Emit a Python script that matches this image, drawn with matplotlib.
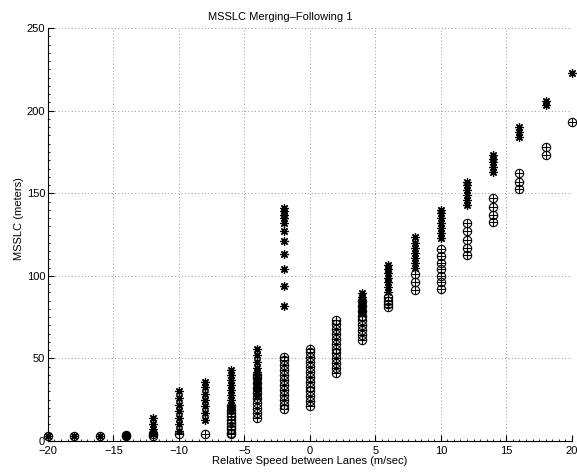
import matplotlib.pyplot as plt
from matplotlib.ticker import MultipleLocator

# Vitesses relatives (m/sec)
vitesses = [-20, -18, -16, -14, -12, -10, -8, -6, -4, -2, 0,
            2, 4, 6, 8, 10, 12, 14, 16, 18, 20]

# Valeurs lues pour la série étoiles
etoiles = [
    [3], [3], [3], [3, 3.5],
    [4, 5.5, 7.5, 10.5, 14],
    [6, 10, 14, 18, 22, 26, 30],
    [13, 17, 21, 25, 28.5, 32.5, 36],
    [19, 22, 25, 28, 31, 34, 37, 40, 43],
    [27, 30, 33, 36, 39, 42, 44, 48, 52, 56],
    [82, 94, 104, 113, 121, 127, 132, 135, 137, 139, 141],
    [],
    [],
    [78, 81, 84, 87, 89.5],
    [90, 93, 96, 99, 102, 104, 106.5],
    [104.5, 108, 111, 114, 117, 120, 123.5],
    [123, 126, 129, 132, 135, 138, 140],
    [143, 146, 149, 152, 155, 157],
    [163, 166, 169, 171, 173],
    [184, 187, 190],
    [203.6, 206],
    [223],
]

# Valeurs lues pour la série cercles
cercles = [
    [3], [3], [3], [3, 3.5], [3, 4], [4], [4],
    [4, 5, 7, 9, 11, 13, 15, 17, 19, 21],
    [14, 17, 20, 23, 26, 29, 32, 35, 38, 40],
    [19.5, 22, 25, 28, 31, 34, 37, 40, 43, 46, 49, 51],
    [21, 24, 27, 30, 33, 36, 39, 42, 45, 48, 51, 54, 56],
    [41, 44, 47, 50, 53, 56, 59, 62, 65, 68, 71, 73],
    [61, 64, 67, 70, 73, 76, 79, 82, 85],
    [81, 83, 85, 87],
    [91.5, 96, 101],
    [92, 96, 100, 104, 108, 112, 116],
    [112.5, 117, 122, 127, 132],
    [132.5, 137, 142, 147],
    [152.5, 157, 162],
    [173, 178],
    [193],
]

plt.rcParams['font.family'] = ['Liberation Sans', 'DejaVu Sans']

fig = plt.figure(figsize=(5.77, 4.74), dpi=100)
ax = fig.add_axes([0.083, 0.0696, 0.908, 0.871])

xe, ye = [], []
for v, vals in zip(vitesses, etoiles):
    xe += [v] * len(vals)
    ye += vals
xc, yc = [], []
for v, vals in zip(vitesses, cercles):
    xc += [v] * len(vals)
    yc += vals

# cercle + croix = marqueur "o+" façon matlab
ax.plot(xc, yc, 'o', mfc='none', mec='k', ms=6, mew=0.8, clip_on=False)
ax.plot(xc, yc, '+', color='k', ms=6, mew=0.8, clip_on=False)
# astérisque à 8 branches
ax.plot(xe, ye, marker=(8, 2, 0), ls='none', color='k', ms=6, mew=0.9, clip_on=False)

ax.set_xlim(-20, 20)
ax.set_ylim(0, 250)
ax.xaxis.set_major_locator(MultipleLocator(5))
ax.yaxis.set_major_locator(MultipleLocator(50))
ax.xaxis.set_minor_locator(MultipleLocator(0.5))
ax.yaxis.set_minor_locator(MultipleLocator(5))
ax.tick_params(which='major', direction='in', length=4, labelsize=8, pad=2)
ax.tick_params(axis='x', which='major', pad=3.5)
ax.tick_params(which='minor', direction='in', length=1.5)
ax.grid(True, linestyle=(0, (1, 3)), color='k', linewidth=0.6, alpha=0.55)

for s in ['top', 'right']:
    ax.spines[s].set_visible(False)

ax.set_title('MSSLC Merging\u2013Following 1', fontsize=8, x=0.443, pad=6)
ax.set_xlabel('Relative Speed between Lanes (m/sec)', fontsize=8, labelpad=0)
ax.set_ylabel('MSSLC (meters)', fontsize=8, labelpad=3)
ax.yaxis.set_label_coords(-0.045, 0.54)

fig.savefig('out.png', dpi=100)
